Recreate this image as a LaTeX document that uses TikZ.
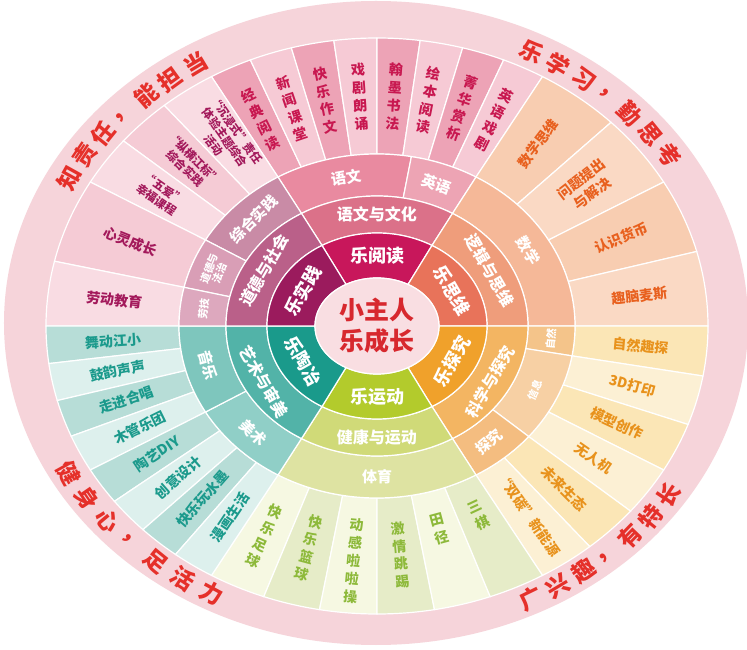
\documentclass[tikz,border=0pt]{standalone}
\usepackage{fontspec}
\newfontfamily\cjk{Noto Sans CJK SC}
\usetikzlibrary{positioning}

\definecolor{band}{HTML}{F6D4DA}
\definecolor{coreFill}{HTML}{F9DEE2}
\definecolor{coreText}{HTML}{D7282E}
\definecolor{mottoText}{HTML}{E5302A}
% inner ring
\definecolor{hubRead}{HTML}{C8175B}
\definecolor{hubThink}{HTML}{E8735A}
\definecolor{hubExpl}{HTML}{F0A12B}
\definecolor{hubSport}{HTML}{B3CB2C}
\definecolor{hubArt}{HTML}{1A9A8B}
\definecolor{hubPrac}{HTML}{9B1B5D}
% second ring
\definecolor{areaRead}{HTML}{DB7189}
\definecolor{areaThink}{HTML}{EF9D7B}
\definecolor{areaExpl}{HTML}{F3B562}
\definecolor{areaSport}{HTML}{D0DA78}
\definecolor{areaArt}{HTML}{52B3A8}
\definecolor{areaPrac}{HTML}{BA6089}
% subject ring
\definecolor{subChin}{HTML}{E98AA0}
\definecolor{subEng}{HTML}{EDA4B4}
\definecolor{subMath}{HTML}{F5B898}
\definecolor{subNat}{HTML}{F4C48A}
\definecolor{subInfo}{HTML}{F7D0A4}
\definecolor{subInq}{HTML}{F4BD80}
\definecolor{subPE}{HTML}{DEE3A2}
\definecolor{subMus}{HTML}{7EC6BD}
\definecolor{subFine}{HTML}{90CFC7}
\definecolor{subComp}{HTML}{C98BA6}
\definecolor{subMoral}{HTML}{D99EB6}
\definecolor{subLabor}{HTML}{DDA8BE}
% course cells
\definecolor{readA}{HTML}{EDA3B6}
\definecolor{readB}{HTML}{F6CAD5}
\definecolor{pracA}{HTML}{F5CBD5}
\definecolor{pracB}{HTML}{F9DCE3}
\definecolor{mathA}{HTML}{F8CDB1}
\definecolor{mathB}{HTML}{FAD9C4}
\definecolor{sciA}{HTML}{FBE6B6}
\definecolor{sciB}{HTML}{FCF0D4}
\definecolor{sportA}{HTML}{E6ECC8}
\definecolor{sportB}{HTML}{F6F8E2}
\definecolor{artA}{HTML}{B7DDD7}
\definecolor{artB}{HTML}{DDF0ED}
% course text
\definecolor{readText}{HTML}{C81850}
\definecolor{pracText}{HTML}{A3195B}
\definecolor{mathText}{HTML}{E8601E}
\definecolor{sciText}{HTML}{E8921C}
\definecolor{sportText}{HTML}{8DB93A}
\definecolor{artText}{HTML}{1B9A8C}

% ring segment: fill, inner x/y radius, outer x/y radius, start/end angle
\newcommand{\ringseg}[7]{%
  \filldraw[fill=#1, draw=white, line width=1.2pt]
    ({#4*cos(#6)},{#5*sin(#6)}) arc[start angle=#6, end angle=#7, x radius=#4, y radius=#5]
    -- ({#2*cos(#7)},{#3*sin(#7)}) arc[start angle=#7, end angle=#6, x radius=#2, y radius=#3]
    -- cycle;}

\begin{document}
\begin{tikzpicture}[x=1pt, y=1pt,
    core/.style={align=center, text=coreText, inner sep=0pt,
                 font=\cjk\bfseries\fontsize{25}{31}\selectfont},
    hub/.style={text=white, inner sep=0pt,
                font=\cjk\bfseries\fontsize{18}{20}\selectfont},
    area/.style={text=white, inner sep=0pt,
                 font=\cjk\bfseries\fontsize{16}{18}\selectfont},
    subj/.style={text=white, inner sep=0pt, align=center,
                 font=\cjk\bfseries\fontsize{15}{16}\selectfont},
    tiny/.style={font=\cjk\bfseries\fontsize{10.5}{11.5}\selectfont},
    course/.style={inner sep=0pt, align=center,
                   font=\cjk\bfseries\fontsize{14}{18}\selectfont},
    multi/.style={font=\cjk\bfseries\fontsize{11.5}{13.5}\selectfont},
    motto/.style={text=mottoText, inner sep=0pt,
                  font=\cjk\bfseries\fontsize{23}{23}\selectfont}
]
\useasboundingbox (-377,-324) rectangle (370,326);
\fill[white] (-377,-324) rectangle (370,326);
\fill[band] (-1,3) ellipse [x radius=372, y radius=322];

% course cells
\foreach \s/\e/\c in {112.5/120/readA, 105/112.5/readB, 97.5/105/readA, 90/97.5/readB,
    82.5/90/readA, 75/82.5/readB, 67.5/75/readA, 60/67.5/readB,
    120/130/pracB, 130/140/pracA, 140/150/pracB, 150/167/pracA, 167/180/pracB,
    45/60/mathA, 30/45/mathB, 15/30/mathA, 0/15/mathB,
    -10/0/sciA, -20/-10/sciB, -30/-20/sciA, -40/-30/sciB, -50/-40/sciA, -60/-50/sciB,
    240/250/sportB, 250/260/sportA, 260/270/sportB, 270/280/sportA, 280/290/sportB, 290/300/sportA,
    180/187.5/artA, 187.5/195/artB, 195/202.5/artA, 202.5/210/artB,
    210/217.5/artA, 217.5/225/artB, 225/232.5/artA, 232.5/240/artB}
  {\ringseg{\c}{198}{172}{331}{288}{\s}{\e}}

% subjects
\foreach \s/\e/\c in {80/120/subChin, 60/80/subEng, 0/60/subMath, -10/0/subNat,
    -40/-10/subInfo, -60/-40/subInq, 240/300/subPE, 210/240/subFine,
    180/210/subMus, 120/150/subComp, 150/167/subMoral, 167/180/subLabor}
  {\ringseg{\c}{151}{130}{198}{172}{\s}{\e}}

% areas and hubs
\foreach \s/\c/\d in {60/areaRead/hubRead, 0/areaThink/hubThink, -60/areaExpl/hubExpl,
    240/areaSport/hubSport, 180/areaArt/hubArt, 120/areaPrac/hubPrac}
  {\ringseg{\c}{110}{93}{151}{130}{\s}{\s+60}
   \ringseg{\d}{62}{48}{110}{93}{\s}{\s+60}}

\filldraw[fill=coreFill, draw=white, line width=1.2pt] (0,0) ellipse [x radius=62, y radius=48];
\node[core] (core) at (0,0) {小主人\\乐成长};

\foreach \a/\r/\h/\m [count=\i] in {90/0/乐阅读/语文与文化, 30/-60/乐思维/逻辑与思维,
    -30/60/乐探究/科学与探究, 270/0/乐运动/健康与运动,
    210/-60/乐陶冶/艺术与审美, 150/60/乐实践/道德与社会}{
  \node[hub, rotate=\r] (hub-\i) at ({86*cos(\a)},{70.5*sin(\a)}) {\h};
  \node[area, rotate=\r] (area-\i) at ({130.5*cos(\a)},{111.5*sin(\a)}) {\m};
}

\foreach \a/\r/\t [count=\i] in {100/10/语文, 70/-20/英语, 30/-60/数学, -50/40/探究,
    270/0/体育, 225/-45/美术, 195/-75/音乐, 135/45/综合实践}
  \node[subj, rotate=\r] (subj-\i) at ({174.5*cos(\a)},{151*sin(\a)}) {\t};
\foreach \a/\r/\t [count=\i] in {-5/85/自然, -25/65/信息, 158.5/68.5/{道德与\\法治}, 173.5/83.5/劳技}
  \node[subj, tiny, rotate=\r] (subj-s\i) at ({174.5*cos(\a)},{151*sin(\a)}) {\t};

% courses
\foreach \a/\t [count=\i] in {116.25/{经\\典\\阅\\读}, 108.75/{新\\闻\\课\\堂},
    101.25/{快\\乐\\作\\文}, 93.75/{戏\\剧\\朗\\诵}, 86.25/{翰\\墨\\书\\法},
    78.75/{绘\\本\\阅\\读}, 71.25/{菁\\华\\赏\\析}, 63.75/{英\\语\\戏\\剧}}
  \node[course, text=readText, rotate=\a-90] (read-\i) at ({264.5*cos(\a)},{230*sin(\a)}) {\t};

\foreach \a/\t [count=\i] in {158.5/心灵成长, 173.5/劳动教育}
  \node[course, text=pracText, rotate=\a-180] (prac-\i) at ({264.5*cos(\a)},{230*sin(\a)}) {\t};
\foreach \a/\t [count=\i] in {125/{“沉浸式”责任\\体验主题综合\\活动},
    135/{“纵横江标”\\综合实践}, 145/{“五爱”\\幸福课程}}
  \node[course, multi, text=pracText, rotate=\a-180] (prac-m\i) at ({264.5*cos(\a)},{230*sin(\a)}) {\t};

\foreach \a/\t [count=\i] in {52.5/数学思维, 37.5/{问题提出\\与解决}, 22.5/认识货币, 7.5/趣脑麦斯}
  \node[course, text=mathText, rotate=\a] (math-\i) at ({264.5*cos(\a)},{230*sin(\a)}) {\t};

\foreach \a/\t [count=\i] in {-5/自然趣探, -15/3D打印, -25/模型创作, -35/无人机,
    -45/未来生态, -55/{“双碳”新能源}}
  \node[course, text=sciText, rotate=\a] (sci-\i) at ({264.5*cos(\a)},{230*sin(\a)}) {\t};

\foreach \a/\f/\t [count=\i] in {245/.52/{快\\乐\\足\\球}, 255/.5/{快\\乐\\篮\\球},
    265/.55/{动\\感\\啦\\啦\\操}, 275/.5/{激\\情\\跳\\踢}, 285/.33/{田\\径}, 295/.32/{三\\棋}}
  \node[course, text=sportText, rotate=\a+90] (sport-\i)
    at ({(198+133*\f)*cos(\a)},{(172+116*\f)*sin(\a)}) {\t};

\foreach \a/\t [count=\i] in {183.75/舞动江小, 191.25/鼓韵声声, 198.75/走进合唱,
    206.25/木管乐团, 213.75/陶艺DIY, 221.25/创意设计, 228.75/快乐玩水墨, 236.25/漫画生活}
  \node[course, text=artText, rotate=\a-180] (art-\i) at ({264.5*cos(\a)},{230*sin(\a)}) {\t};

% mottos on the band
\foreach \c [count=\i] in {知,责,任,，,能,担,当}{
  \pgfmathsetmacro\a{156-5*\i}
  \node[motto, rotate=\a-90] (motto-a\i) at ({352*cos(\a)},{305*sin(\a)}) {\c};
}
\foreach \c [count=\i] in {乐,学,习,，,勤,思,考}{
  \pgfmathsetmacro\a{69-5*\i}
  \node[motto, rotate=\a-90] (motto-b\i) at ({352*cos(\a)},{305*sin(\a)}) {\c};
}
\foreach \c [count=\i] in {健,身,心,，,足,活,力}{
  \pgfmathsetmacro\a{203.5+5.5*\i}
  \node[motto, rotate=\a+90] (motto-c\i) at ({352*cos(\a)},{303*sin(\a)}) {\c};
}
\foreach \c [count=\i] in {广,兴,趣,，,有,特,长}{
  \pgfmathsetmacro\a{291+5*\i}
  \node[motto, rotate=\a+90] (motto-d\i) at ({352*cos(\a)},{303*sin(\a)}) {\c};
}
\end{tikzpicture}
\end{document}
